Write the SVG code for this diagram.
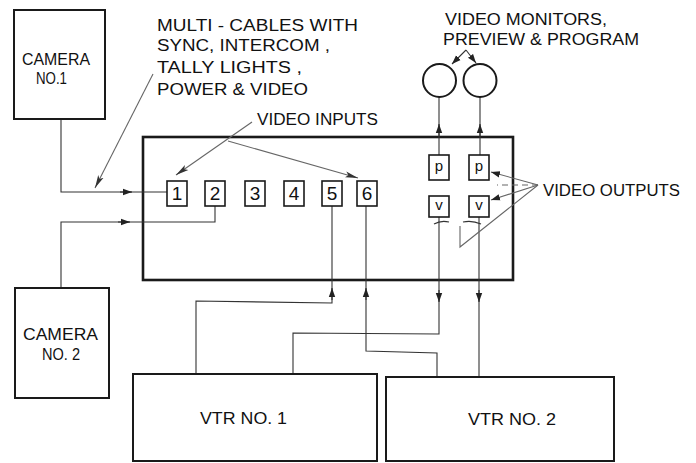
<svg xmlns="http://www.w3.org/2000/svg" width="696" height="463" viewBox="0 0 696 463">
<style>
.box{fill:#fff;stroke:#1a1a1a;stroke-width:2}
.main{fill:none;stroke:#1a1a1a;stroke-width:2.6}
.port{fill:#fff;stroke:#1a1a1a;stroke-width:1.6}
.mon{fill:#fff;stroke:#1a1a1a;stroke-width:2}
.wire{fill:none;stroke:#333;stroke-width:1.1}
.lead{fill:none;stroke:#666;stroke-width:1.1}
.lbl{font-family:"Liberation Sans",Arial,sans-serif;fill:#111;font-size:16px}
.num{font-family:"Liberation Sans",Arial,sans-serif;fill:#111;font-size:19px;text-anchor:middle}
.sm{font-family:"Liberation Sans",Arial,sans-serif;fill:#111;font-size:15px;text-anchor:middle}
</style>
<defs>
<marker id="ah" markerUnits="userSpaceOnUse" markerWidth="10" markerHeight="8" refX="9" refY="4" orient="auto">
<path d="M0,0.8 L9,4 L0,7.2 Z" fill="#222"/>
</marker>
<marker id="al" markerUnits="userSpaceOnUse" markerWidth="14" markerHeight="8" refX="13" refY="4" orient="auto">
<path d="M0,1 L13,4 L0,7 L3,4 Z" fill="#333"/>
</marker>
</defs>

<g id="switcher">
<rect class="main" x="143" y="137" width="370" height="143"/>
</g>

<g id="connectors">
<polyline class="wire" points="61,119 61,192 167,192"/>
<path class="wire" d="M120,192 L132,192" marker-end="url(#ah)"/>
<polyline class="wire" points="61,288 61,222 215,222 215,206"/>
<path class="wire" d="M118,222 L130,222" marker-end="url(#ah)"/>
<polyline class="wire" points="196,374 196,301 332,303 332,206"/>
<path class="wire" d="M332,300 L332,288" marker-end="url(#ah)"/>
<polyline class="wire" points="437,377 437,353 366,351 366,206"/>
<path class="wire" d="M366,300 L366,288" marker-end="url(#ah)"/>
<polyline class="wire" points="439,217 439,334 293,333 293,374"/>
<path class="wire" d="M439,290 L439,302" marker-end="url(#ah)"/>
<polyline class="wire" points="479,217 479,377"/>
<path class="wire" d="M479,290 L479,302" marker-end="url(#ah)"/>
<polyline class="wire" points="439,155 439,97"/>
<path class="wire" d="M439,136 L439,124" marker-end="url(#ah)"/>
<polyline class="wire" points="480,155 480,97"/>
<path class="wire" d="M480,136 L480,124" marker-end="url(#ah)"/>

<path class="lead" d="M153,74 L95,188" stroke-width="1.8" marker-end="url(#al)"/>
<path class="lead" d="M252,122 L176,175" marker-end="url(#al)"/>
<path class="lead" d="M228,141 L358,178" marker-end="url(#al)"/>
<path class="wire" d="M466,50 L452,64" marker-end="url(#ah)"/>
<path class="wire" d="M466,50 L476,63" marker-end="url(#ah)"/>
<path class="lead" d="M538,185 L491,172" marker-end="url(#ah)"/>
<path class="lead" d="M538,185 L491,200" marker-end="url(#ah)"/>
<path class="lead" d="M538,185 L497,185" stroke="#bbb" stroke-dasharray="6,4"/>
<polyline class="lead" points="538,185 460,247 460,226"/>
<path class="wire" d="M434,224 Q441,220 449,222"/>
<path class="wire" d="M463,222 Q472,220 481,224"/>
</g>

<g id="input1"><rect class="port" x="167" y="181" width="20" height="25"/><text class="num" x="177" y="200">1</text></g>
<g id="input2"><rect class="port" x="205" y="181" width="20" height="25"/><text class="num" x="215" y="200">2</text></g>
<g id="input3"><rect class="port" x="245" y="181" width="20" height="25"/><text class="num" x="255" y="200">3</text></g>
<g id="input4"><rect class="port" x="284" y="181" width="20" height="25"/><text class="num" x="294" y="200">4</text></g>
<g id="input5"><rect class="port" x="322" y="181" width="20" height="25"/><text class="num" x="332" y="200">5</text></g>
<g id="input6"><rect class="port" x="357" y="181" width="20" height="25"/><text class="num" x="367" y="200">6</text></g>

<g id="p1"><rect class="port" x="429" y="155" width="20" height="25"/><text class="sm" x="439" y="171">p</text></g>
<g id="p2"><rect class="port" x="469" y="155" width="20" height="25"/><text class="sm" x="479" y="171">p</text></g>
<g id="v1"><rect class="port" x="429" y="196" width="20" height="21"/><text class="sm" x="439" y="210">v</text></g>
<g id="v2"><rect class="port" x="469" y="196" width="20" height="21"/><text class="sm" x="479" y="210">v</text></g>

<g id="monitor1"><circle class="mon" cx="439.5" cy="80.5" r="16.5"/></g>
<g id="monitor2"><circle class="mon" cx="480" cy="80.5" r="16.5"/></g>

<g id="camera1">
<rect class="box" x="14" y="10" width="91" height="109"/>
<text class="lbl" x="22" y="65" textLength="68" lengthAdjust="spacingAndGlyphs">CAMERA</text>
<text class="lbl" x="36" y="84" font-size="15" textLength="31" lengthAdjust="spacingAndGlyphs">NO.1</text>
</g>
<g id="camera2">
<rect class="box" x="15" y="288" width="94" height="110"/>
<text class="lbl" x="23" y="340" textLength="75" lengthAdjust="spacingAndGlyphs">CAMERA</text>
<text class="lbl" x="42" y="360" textLength="38" lengthAdjust="spacingAndGlyphs">NO. 2</text>
</g>
<g id="vtr1">
<rect class="box" x="133" y="374" width="244" height="87"/>
<text class="lbl" x="200" y="424" textLength="87" lengthAdjust="spacingAndGlyphs">VTR  NO. 1</text>
</g>
<g id="vtr2">
<rect class="box" x="386" y="377" width="228" height="84"/>
<text class="lbl" x="468" y="425" textLength="88" lengthAdjust="spacingAndGlyphs">VTR  NO. 2</text>
</g>

<g id="labels">
<text class="lbl" x="157" y="31" textLength="201" lengthAdjust="spacingAndGlyphs">MULTI - CABLES  WITH</text>
<text class="lbl" x="157" y="51" textLength="173" lengthAdjust="spacingAndGlyphs">SYNC, INTERCOM ,</text>
<text class="lbl" x="157" y="73" textLength="145" lengthAdjust="spacingAndGlyphs">TALLY  LIGHTS ,</text>
<text class="lbl" x="157" y="95" textLength="151" lengthAdjust="spacingAndGlyphs">POWER &amp; VIDEO</text>
<text class="lbl" x="257" y="125" textLength="121" lengthAdjust="spacingAndGlyphs">VIDEO INPUTS</text>
<text class="lbl" x="445" y="25" textLength="162" lengthAdjust="spacingAndGlyphs">VIDEO  MONITORS,</text>
<text class="lbl" x="443" y="45" textLength="196" lengthAdjust="spacingAndGlyphs">PREVIEW &amp; PROGRAM</text>
<text class="lbl" x="543" y="196" textLength="137" lengthAdjust="spacingAndGlyphs">VIDEO OUTPUTS</text>
</g>
</svg>
